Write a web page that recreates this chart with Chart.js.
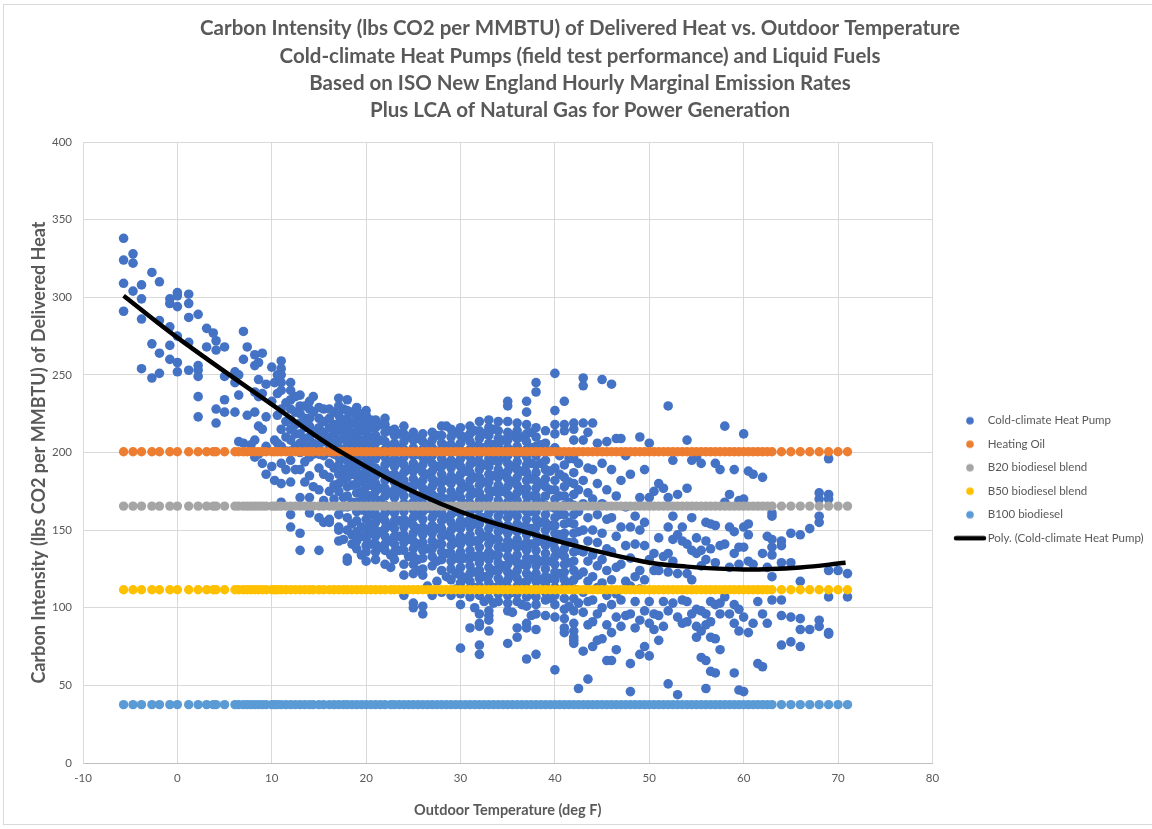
<!DOCTYPE html>
<html>
<head>
<meta charset="utf-8">
<script src="https://cdn.jsdelivr.net/npm/chart.js@4/dist/chart.umd.min.js"></script>
<style>
  html, body { margin: 0; padding: 0; background: #ffffff; overflow: hidden; }
  #wrap { position: relative; width: 1152px; height: 829px; }
  #frame { position: absolute; left: 3px; top: 4px; width: 1170px; height: 821px; border: 1px solid #d9d9d9; box-sizing: border-box; pointer-events: none; }
  canvas { position: absolute; left: 0; top: 0; }
</style>
</head>
<body>
<div id="wrap">
  <div id="frame"></div>
  <canvas id="c" width="1152" height="829"></canvas>
</div>
<script>
// ---------- DATA ----------
const chartTitle = [
  "Carbon Intensity (lbs CO2 per MMBTU) of Delivered Heat vs. Outdoor Temperature",
  "Cold-climate Heat Pumps (field test performance) and Liquid Fuels",
  "Based on ISO New England Hourly Marginal Emission Rates",
  "Plus LCA of Natural Gas for Power Generation"
];
const xAxisTitle = "Outdoor Temperature (deg F)";
const yAxisTitle = "Carbon Intensity (lbs CO2 per MMBTU) of Delivered Heat";
const xTickValues = [-10, 0, 10, 20, 30, 40, 50, 60, 70, 80];
const yTickValues = [0, 50, 100, 150, 200, 250, 300, 350, 400];

const heatPumpLabel = "Cold-climate Heat Pump";
// [outdoor temperature, [carbon intensity values observed at that temperature]]
const heatPumpColumns = [
  [-5.7, [338, 324, 309, 291]],
  [-4.7, [328, 322, 304]],
  [-3.8, [308, 299, 286, 254]],
  [-2.7, [316, 270, 248]],
  [-1.9, [310, 285, 264, 251]],
  [-0.8, [299, 296, 281, 269, 260]],
  [0.0, [303, 301, 294, 275, 258, 252]],
  [1.2, [302, 296, 287, 271, 253]],
  [2.2, [289, 256, 253, 249, 236, 223]],
  [3.1, [280, 268]],
  [3.8, [277]],
  [4.1, [272, 266, 228, 219]],
  [5.0, [268, 249, 234, 226]],
  [6.1, [252, 245, 226]],
  [6.5, [250, 237, 207]],
  [7.0, [278, 260, 206]],
  [7.4, [268, 224]],
  [7.8, [205]],
  [8.2, [263, 256, 239, 226, 208, 197]],
  [8.6, [258, 247, 236, 217, 199]],
  [9.0, [264, 238, 215, 193]],
  [9.4, [244, 223, 204, 186]],
  [10.0, [255, 233, 191]],
  [10.3, [245, 208, 182]],
  [10.6, [250, 238, 224, 206]],
  [11.0, [259, 254, 250, 245, 240, 228, 215, 204, 193, 180, 168]],
  [11.5, [232, 220, 210, 201, 189]],
  [12.0, [245, 240, 234, 228, 221, 215, 208, 201, 195, 181, 160, 152]],
  [12.5, [236, 226, 218, 212, 204, 189]],
  [13.0, [237, 230, 225, 219, 212, 206, 200, 189, 171, 148, 137]],
  [13.5, [230, 222, 216, 209, 203, 194, 181]],
  [14.0, [233, 228, 222, 217, 210, 204, 197, 185, 171, 161]],
  [14.4, [236, 226, 214, 206, 199, 178]],
  [15.0, [229, 222, 216, 211, 205, 199, 190, 176, 158, 137]],
  [15.5, [228, 220, 213, 207, 198, 186, 169, 155]],
  [16.1, [228, 222, 216, 210, 205, 200, 193, 184, 175, 157, 155]],
  [16.6, [226, 218, 212, 206, 199, 190, 179, 170]],
  [17.1, [235, 230, 224, 219, 214, 208, 203, 197, 192, 186, 180, 175, 160, 152, 150, 143]],
  [17.6, [228, 221, 215, 209, 202, 196, 189, 183, 171, 165, 144]],
  [18.0, [234, 227, 222, 216, 211, 206, 200, 195, 190, 184, 178, 172, 165, 158, 150, 132, 130]],
  [18.5, [226, 219, 213, 208, 203, 197, 191, 186, 179, 168, 154, 147, 141]],
  [19.0, [229, 223, 218, 212, 207, 202, 196, 191, 185, 180, 174, 168, 162, 156, 149, 143, 138]],
  [19.5, [225, 220, 214, 208, 203, 198, 192, 186, 181, 175, 169, 163, 152, 146, 134]],
  [20.0, [227, 224, 218, 213, 208, 203, 198, 193, 188, 183, 178, 173, 168, 162, 157, 151, 145, 140, 136, 130]],
  [20.5, [221, 216, 210, 204, 199, 194, 189, 184, 179, 172, 166, 160, 154, 148, 141]],
  [21.0, [221, 216, 211, 206, 201, 196, 190, 185, 180, 175, 170, 165, 160, 155, 150, 146, 141, 136, 131]],
  [21.5, [218, 208, 199, 188, 177, 169, 158, 149, 139]],
  [22.0, [222, 218, 213, 207, 202, 197, 192, 187, 182, 177, 172, 166, 161, 156, 151, 146, 141, 137, 128]],
  [22.6, [214, 204, 194, 185, 174, 163, 153, 143, 134, 126]],
  [23.0, [215, 211, 206, 201, 196, 191, 186, 181, 176, 171, 166, 161, 156, 151, 146, 141, 136, 131]],
  [23.5, [212, 203, 194, 184, 175, 165, 156, 146, 137]],
  [24.0, [217, 212, 207, 202, 197, 192, 187, 182, 177, 172, 167, 162, 157, 152, 147, 142, 137, 128, 121, 108]],
  [24.5, [210, 200, 189, 178, 166, 155, 144, 133]],
  [25.0, [213, 208, 203, 198, 193, 188, 183, 178, 173, 168, 163, 158, 153, 148, 143, 138, 133, 128, 122, 103, 100]],
  [25.5, [209, 199, 190, 180, 170, 160, 151, 141, 131, 124]],
  [26.0, [212, 207, 202, 197, 192, 187, 182, 177, 172, 167, 162, 157, 152, 147, 142, 137, 132, 125, 121, 101, 96]],
  [26.5, [205, 196, 186, 175, 164, 150, 138, 114]],
  [27.0, [213, 208, 203, 198, 193, 188, 183, 178, 173, 168, 163, 158, 153, 148, 143, 138, 133, 127, 110, 108]],
  [27.5, [211, 201, 191, 181, 171, 161, 151, 141, 130, 117]],
  [28.0, [217, 211, 206, 201, 196, 191, 186, 181, 176, 171, 166, 161, 156, 151, 146, 141, 136, 131, 124, 110]],
  [28.5, [217, 204, 193, 182, 170, 158, 147, 135, 120]],
  [29.0, [215, 210, 205, 200, 195, 190, 185, 180, 175, 170, 165, 160, 155, 150, 145, 140, 135, 130, 125, 118, 108]],
  [29.5, [213, 203, 193, 183, 172, 162, 152, 142, 132, 122, 112]],
  [30.0, [216, 211, 206, 201, 196, 191, 186, 181, 176, 171, 166, 161, 156, 151, 146, 141, 136, 131, 126, 121, 116, 109, 102, 74]],
  [30.5, [210, 199, 188, 178, 167, 155, 144, 132, 119]],
  [31.0, [217, 212, 207, 202, 197, 192, 187, 182, 177, 172, 167, 162, 157, 152, 147, 142, 137, 132, 127, 122, 117, 112, 107, 87]],
  [31.5, [214, 204, 194, 184, 174, 164, 154, 143, 133, 123, 113, 100]],
  [32.0, [220, 214, 209, 204, 199, 194, 189, 184, 179, 174, 169, 164, 159, 154, 149, 144, 139, 134, 129, 124, 119, 114, 108, 96, 90, 88, 76, 70]],
  [32.5, [212, 203, 192, 181, 170, 158, 146, 133, 120, 104]],
  [33.0, [221, 216, 211, 206, 201, 196, 191, 186, 181, 176, 171, 166, 161, 156, 151, 146, 141, 136, 131, 126, 121, 116, 111, 106, 98, 95, 92, 85]],
  [33.5, [215, 205, 195, 185, 175, 164, 154, 144, 134, 124, 113, 103]],
  [34.0, [220, 214, 209, 204, 199, 194, 189, 184, 179, 174, 169, 164, 159, 154, 149, 144, 139, 134, 129, 124, 119, 114, 109, 104]],
  [34.5, [208, 197, 186, 175, 163, 151, 139, 127, 115]],
  [35.0, [233, 230, 220, 213, 208, 203, 198, 193, 188, 183, 178, 173, 168, 163, 158, 153, 148, 143, 138, 133, 128, 123, 118, 113, 108, 103, 98, 77]],
  [35.5, [211, 201, 191, 181, 171, 161, 151, 141, 131, 121, 110, 97]],
  [36.0, [219, 214, 209, 204, 199, 194, 189, 184, 179, 174, 169, 164, 159, 154, 149, 144, 139, 134, 129, 124, 119, 114, 109, 104, 87, 81]],
  [36.5, [210, 200, 188, 176, 164, 152, 140, 128, 116, 102]],
  [37.0, [233, 226, 218, 212, 207, 202, 197, 192, 187, 182, 177, 172, 167, 162, 157, 152, 147, 142, 137, 132, 127, 122, 117, 112, 107, 101, 90, 87, 67]],
  [37.5, [213, 203, 193, 183, 172, 162, 151, 141, 131, 120, 109, 95]],
  [38.0, [245, 239, 216, 210, 204, 198, 192, 187, 182, 177, 172, 167, 162, 157, 152, 147, 142, 137, 132, 127, 122, 117, 112, 107, 102, 96, 86, 70]],
  [38.5, [205, 193, 180, 168, 155, 143, 130, 118]],
  [39.0, [214, 206, 195, 189, 183, 178, 172, 166, 160, 155, 150, 145, 140, 135, 130, 125, 120, 115, 110, 105, 95]],
  [39.5, [201, 188, 176, 165, 153, 142, 130, 119, 106]],
  [40.0, [251, 227, 218, 212, 203, 190, 182, 176, 170, 164, 158, 153, 148, 143, 138, 133, 128, 123, 118, 113, 108, 102, 94, 60]],
  [40.5, [198, 186, 172, 160, 147, 135, 122]],
  [41.0, [233, 218, 214, 192, 184, 178, 172, 166, 160, 154, 148, 143, 138, 133, 128, 123, 118, 113, 106, 99, 93, 87, 84]],
  [41.5, [196, 181, 168, 155, 142, 129, 116, 101]],
  [42.0, [219, 215, 208, 196, 187, 180, 173, 166, 160, 154, 148, 142, 136, 130, 124, 118, 112, 106, 98, 90, 85, 81, 79, 77]],
  [42.5, [193, 176, 162, 149, 137, 121, 103, 48]],
  [43.0, [248, 243, 219, 208, 182, 167, 150, 136, 123, 110, 97, 72]],
  [43.5, [213, 190, 174, 158, 143, 130, 117, 104, 89, 54]],
  [44.0, [219, 189, 170, 150, 134, 120, 105, 91, 75]],
  [44.5, [206, 180, 160, 142, 127, 113, 96, 79]],
  [45.0, [247, 193, 167, 148, 131, 116, 100, 80]],
  [45.5, [207, 176, 157, 138, 124, 108, 89, 66]],
  [46.0, [244, 189, 158, 136, 118, 102, 84, 66]],
  [46.5, [209, 172, 146, 126, 109, 94, 73]],
  [47.0, [209, 182, 152, 128, 105, 88]],
  [47.5, [198, 165, 140, 117, 95]],
  [48.0, [186, 152, 132, 114, 96, 64, 46]],
  [48.5, [159, 141, 120, 104, 87]],
  [49.0, [210, 171, 150, 124, 112, 92, 70]],
  [49.5, [189, 155, 140, 118, 98, 75]],
  [50.0, [206, 171, 131, 104, 90, 69]],
  [50.5, [175, 135, 124, 96, 86]],
  [51.0, [180, 145, 124, 95, 79]],
  [51.5, [177, 133, 104, 88]],
  [52.0, [230, 171, 152, 135, 123, 98, 51]],
  [52.5, [195, 159, 144, 130, 103]],
  [53.0, [173, 147, 122, 94, 44]],
  [53.5, [152, 143, 105, 90]],
  [54.0, [208, 177, 141, 122, 104, 91]],
  [54.5, [195, 158, 137, 118, 96]],
  [55.0, [197, 145, 135, 99, 88, 81]],
  [55.5, [193, 137, 127, 98, 85, 68]],
  [56.0, [155, 143, 131, 96, 89, 66, 48]],
  [56.5, [154, 138, 104, 91, 81, 59]],
  [57.0, [193, 153, 129, 102, 80, 58]],
  [57.5, [189, 140, 103, 96, 73]],
  [58.0, [217, 168, 141, 107]],
  [58.5, [173, 152, 126, 96]],
  [59.0, [189, 149, 135, 102, 90, 58]],
  [59.5, [169, 139, 128, 99, 85, 47]],
  [60.0, [212, 170, 152, 139, 94, 46]],
  [60.5, [188, 154, 147, 130, 84]],
  [61.0, [186, 128, 90]],
  [61.5, [104, 64]],
  [62.0, [184, 135, 96, 62]],
  [62.5, [146, 126, 90]],
  [63.0, [161, 159, 144, 139, 134, 120, 105]],
  [64.0, [143, 140, 129, 105, 95, 76]],
  [65.0, [148, 129, 94, 78]],
  [66.0, [147, 117, 93, 86, 75]],
  [67.0, [151, 86]],
  [68.0, [174, 170, 159, 155, 92, 88]],
  [69.0, [196, 173, 170, 124, 107, 84, 83]],
  [70.0, [124]],
  [71.0, [122, 107]]
];

// Liquid fuels: constant carbon intensity at every observed temperature
const fuelLabels = ["Heating Oil", "B20 biodiesel blend", "B50 biodiesel blend", "B100 biodiesel"];
const fuelValues = [200.5, 165.5, 111.6, 37.6];

// Polynomial trend line of the heat pump series
const trendLabel = "Poly. (Cold-climate Heat Pump)";
const trendTemps = [-5.7, 0, 10, 17.3, 27.9, 38.5, 49.2, 54, 60, 66, 70.8];
const trendValues = [301, 274, 231, 200.5, 167, 146, 130, 126.5, 124.7, 126, 129];

// ---------- STYLE ----------
const heatPumpColor = "#4472C4";
const fuelColors = ["#ED7D31", "#A5A5A5", "#FFC000", "#5B9BD5"];
const textColor = "#595959";
const gridColor = "#d9d9d9";
const FONT = "Lato, 'Liberation Sans', sans-serif";

// ---------- BUILD DATASETS ----------
const heatPumpPoints = [];
heatPumpColumns.forEach(([t, vals]) => vals.forEach(v => heatPumpPoints.push({x: t, y: v})));
const fuelTemps = heatPumpColumns.map(c => c[0]);

function dotMark(color) {
  const c = document.createElement('canvas');
  c.width = 10; c.height = 10;
  const g = c.getContext('2d');
  g.fillStyle = color;
  g.beginPath(); g.arc(5, 5, 3.8, 0, Math.PI * 2); g.fill();
  return c;
}
function lineMark(color) {
  const c = document.createElement('canvas');
  c.width = 34; c.height = 6;
  const g = c.getContext('2d');
  g.strokeStyle = color; g.lineWidth = 4.5; g.lineCap = 'round';
  g.beginPath(); g.moveTo(3, 3); g.lineTo(31, 3); g.stroke();
  return c;
}

const datasets = [];
datasets.push({
  label: heatPumpLabel,
  data: heatPumpPoints,
  backgroundColor: heatPumpColor,
  borderWidth: 0,
  pointRadius: 4.8,
  pointHoverRadius: 4.8,
  order: 3
});
fuelLabels.forEach((lab, i) => {
  datasets.push({
    label: lab,
    data: fuelTemps.map(t => ({x: t, y: fuelValues[i]})),
    backgroundColor: fuelColors[i],
    borderWidth: 0,
    pointRadius: 4.7,
    pointHoverRadius: 4.7,
    order: 2
  });
});
datasets.push({
  type: 'line',
  label: trendLabel,
  data: trendTemps.map((t, i) => ({x: t, y: trendValues[i]})),
  borderColor: '#000000',
  backgroundColor: '#000000',
  borderWidth: 4.5,
  pointRadius: 0,
  tension: 0.4,
  fill: false,
  order: 1
});

const legendMarks = [dotMark(heatPumpColor)].concat(fuelColors.map(dotMark)).concat([lineMark('#000000')]);

// places the legend block where the reference shows it
const legendPlacer = {
  id: 'legendPlacer',
  afterLayout(chart) {
    const lg = chart.legend;
    if (!lg) return;
    const w = lg.width;
    lg.left = 946; lg.right = lg.left + w;
    lg.top = 403; lg.bottom = lg.top + 220;
  }
};

new Chart(document.getElementById('c'), {
  type: 'scatter',
  data: { datasets },
  plugins: [legendPlacer],
  options: {
    responsive: false,
    animation: false,
    devicePixelRatio: 1,
    events: [],
    layout: { padding: { left: 20, right: 12, top: 0, bottom: 9 } },
    plugins: {
      tooltip: { enabled: false },
      title: {
        display: true,
        text: chartTitle,
        color: textColor,
        font: { family: FONT, size: 20.5, weight: 'bold', lineHeight: 1.33 },
        padding: { top: 15, bottom: 18 }
      },
      legend: {
        position: 'right',
        align: 'start',
        labels: {
          color: textColor,
          font: { family: FONT, size: 11.5 },
          usePointStyle: true,
          pointStyleWidth: 24,
          padding: 12,
          sort: (a, b) => a.datasetIndex - b.datasetIndex,
          generateLabels(chart) {
            const items = Chart.defaults.plugins.legend.labels.generateLabels(chart);
            items.forEach(it => { it.pointStyle = legendMarks[it.datasetIndex]; });
            return items;
          }
        }
      }
    },
    scales: {
      x: {
        type: 'linear',
        min: -10, max: 80,
        afterBuildTicks(scale) { scale.ticks = xTickValues.map(v => ({value: v})); },
        afterFit(scale) { scale.height = 57; },
        grid: { color: gridColor, lineWidth: 1, drawTicks: false },
        border: { color: '#bfbfbf', width: 1 },
        ticks: { color: textColor, font: { family: FONT, size: 11.5 }, padding: 8 },
        title: {
          display: true, text: xAxisTitle, color: textColor,
          font: { family: FONT, size: 14.5, weight: 'bold' },
          padding: { top: 0, bottom: 1 }
        }
      },
      y: {
        type: 'linear',
        min: 0, max: 400,
        afterBuildTicks(scale) { scale.ticks = yTickValues.map(v => ({value: v})); },
        afterFit(scale) { scale.width = 63; },
        grid: { color: gridColor, lineWidth: 1, drawTicks: false },
        border: { color: gridColor, width: 1 },
        ticks: { color: textColor, font: { family: FONT, size: 11.5 }, padding: 11 },
        title: {
          display: true, text: yAxisTitle, color: textColor,
          font: { family: FONT, size: 18, weight: 'bold' },
          padding: { top: 8, bottom: 4 }
        }
      }
    }
  }
});
</script>
</body>
</html>
